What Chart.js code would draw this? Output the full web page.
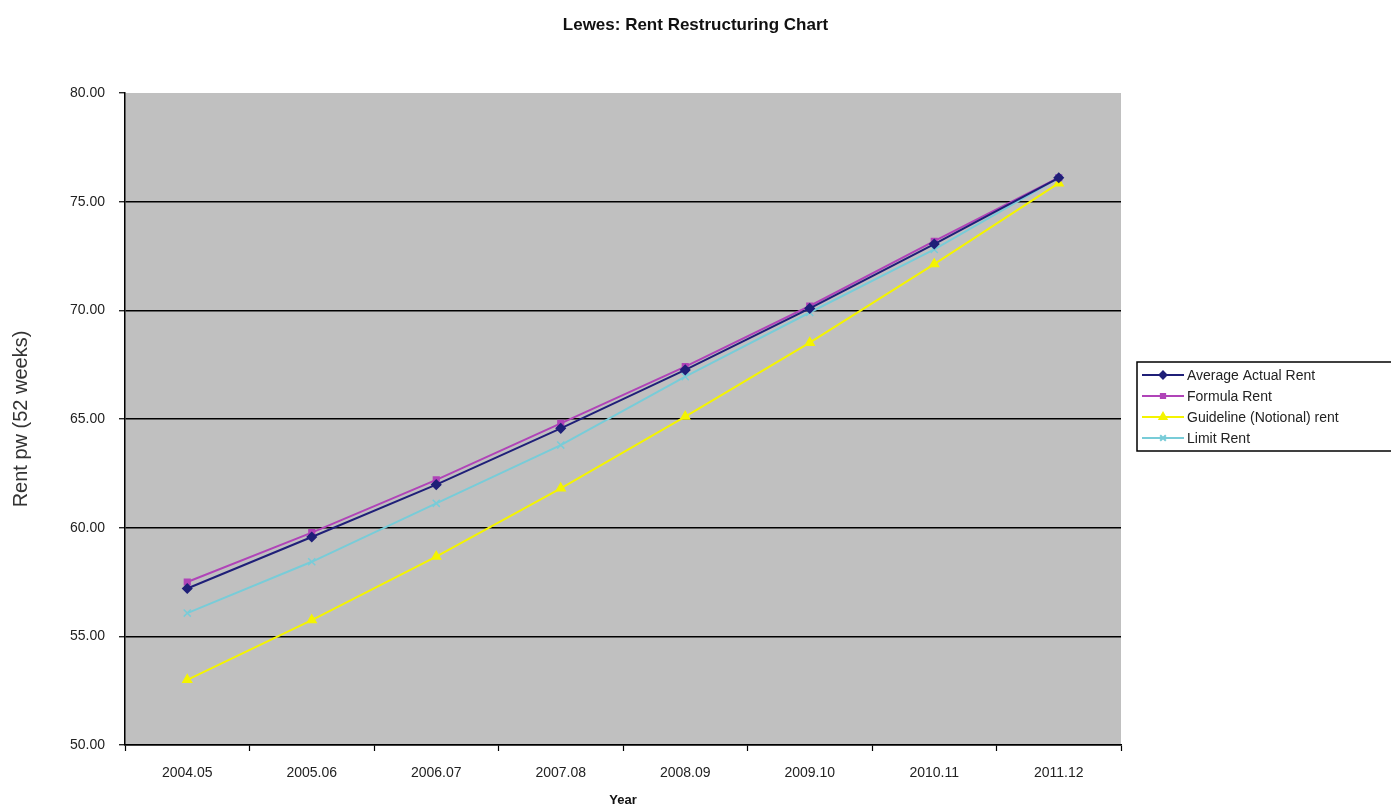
<!DOCTYPE html>
<html>
<head>
<meta charset="utf-8">
<title>Lewes: Rent Restructuring Chart</title>
<script src="https://cdn.jsdelivr.net/npm/chart.js@4/dist/chart.umd.min.js"></script>
<style>
    html, body { margin: 0; padding: 0; background: #ffffff; }
    #wrap { width: 1391px; height: 812px; }
</style>
</head>
<body>
<div id="wrap"><canvas id="rentChart" width="1391" height="812"></canvas></div>
<script>
// values
const years = ['2004.05', '2005.06', '2006.07', '2007.08', '2008.09', '2009.10', '2010.11', '2011.12'];
const actualRent = [57.20, 59.57, 61.98, 64.57, 67.26, 70.09, 73.05, 76.10];
const formulaRent = [57.50, 59.77, 62.20, 64.80, 67.41, 70.20, 73.18, 76.10];
const guidelineRent = [53.00, 55.75, 58.67, 61.81, 65.11, 68.51, 72.13, 75.85];
const limitRent = [56.07, 58.43, 61.12, 63.80, 66.95, 69.90, 72.80, 76.10];
const yTicks = [50, 55, 60, 65, 70, 75, 80];

const series = [
    { label: 'Average Actual Rent', data: actualRent, color: '#1f1f78', point: 'rectRot', radius: 4.5 },
    { label: 'Formula Rent', data: formulaRent, color: '#b044b8', point: 'rect', radius: 4 },
    { label: 'Guideline (Notional) rent', data: guidelineRent, color: '#f4f400', point: 'triangle', radius: 5 },
    { label: 'Limit Rent', data: limitRent, color: '#78ccd8', point: 'crossRot', radius: 5 }
];

const FONT = '"Liberation Sans", Arial, sans-serif';

// grey plot area, title and boxed legend
const decorPlugin = {
    id: 'decor',
    beforeDraw(chart) {
        const { ctx, chartArea: a } = chart;
        ctx.save();
        ctx.fillStyle = '#ffffff';
        ctx.fillRect(0, 0, chart.width, chart.height);
        ctx.fillStyle = '#c0c0c0';
        ctx.fillRect(a.left, a.top, a.right - a.left, a.bottom - a.top);
        ctx.restore();
    },
    afterDraw(chart) {
        const ctx = chart.ctx;
        ctx.save();
        ctx.fillStyle = '#111';
        ctx.font = 'bold 17px ' + FONT;
        ctx.textAlign = 'center';
        ctx.textBaseline = 'middle';
        ctx.fillText('Lewes: Rent Restructuring Chart', chart.width / 2, 25);

        // legend
        const boxX = 1137, boxY = 362, boxH = 89;
        ctx.strokeStyle = '#000';
        ctx.lineWidth = 1.5;
        ctx.strokeRect(boxX, boxY, 270, boxH);
        ctx.font = '14px ' + FONT;
        ctx.textAlign = 'left';
        series.forEach((s, i) => {
            const y = boxY + 13 + i * 21;
            ctx.strokeStyle = s.color;
            ctx.lineWidth = 2;
            ctx.beginPath();
            ctx.moveTo(1142, y);
            ctx.lineTo(1184, y);
            ctx.stroke();
            ctx.fillStyle = s.color;
            ctx.strokeStyle = s.color;
            Chart.helpers.drawPoint(ctx, {
                pointStyle: s.point, radius: s.radius - 1, borderWidth: 1.5, rotation: 0
            }, 1163, y);
            ctx.fillStyle = '#222';
            ctx.fillText(s.label, 1187, y + 1);
        });
        ctx.restore();
    }
};

new Chart(document.getElementById('rentChart'), {
    type: 'line',
    data: {
        labels: years,
        datasets: series.map(s => ({
            label: s.label,
            data: s.data,
            borderColor: s.color,
            backgroundColor: s.color,
            borderWidth: 2,
            pointStyle: s.point,
            pointRadius: s.radius,
            pointBorderWidth: 1.5,
            tension: 0
        }))
    },
    options: {
        responsive: false,
        animation: false,
        layout: { padding: { top: 93, right: 270, left: 0, bottom: 0 } },
        plugins: {
            legend: { display: false },
            title: { display: false },
            tooltip: { enabled: false }
        },
        scales: {
            x: {
                offset: true,
                afterFit(scale) { scale.height = 67; },
                grid: {
                    offset: true,
                    drawOnChartArea: false,
                    drawTicks: true,
                    tickLength: 6,
                    tickColor: '#000',
                    tickWidth: 1.2
                },
                border: { display: true, color: '#000', width: 1.5 },
                ticks: {
                    color: '#222',
                    padding: 14,
                    maxRotation: 0,
                    font: { family: FONT, size: 14 }
                },
                title: {
                    display: true,
                    text: 'Year',
                    color: '#111',
                    padding: { top: 0, bottom: 4 },
                    font: { family: FONT, size: 13, weight: 'bold' }
                }
            },
            y: {
                min: 50,
                max: 80,
                afterFit(scale) { scale.width = 125; },
                afterBuildTicks(scale) { scale.ticks = yTicks.map(v => ({ value: v })); },
                grid: {
                    color: ctx => (ctx.tick && ctx.tick.value === 80) ? 'rgba(0,0,0,0)' : '#000',
                    lineWidth: 1.5,
                    drawTicks: true,
                    tickLength: 6,
                    tickColor: '#000',
                    tickWidth: 1.2
                },
                border: { display: true, color: '#000', width: 1.5 },
                ticks: {
                    color: '#222',
                    padding: 14,
                    font: { family: FONT, size: 14 },
                    callback: v => Number(v).toFixed(2)
                },
                title: {
                    display: true,
                    text: 'Rent pw (52 weeks)',
                    color: '#333',
                    padding: { top: 9, bottom: 0 },
                    font: { family: FONT, size: 20 }
                }
            }
        }
    },
    plugins: [decorPlugin]
});
</script>
</body>
</html>
